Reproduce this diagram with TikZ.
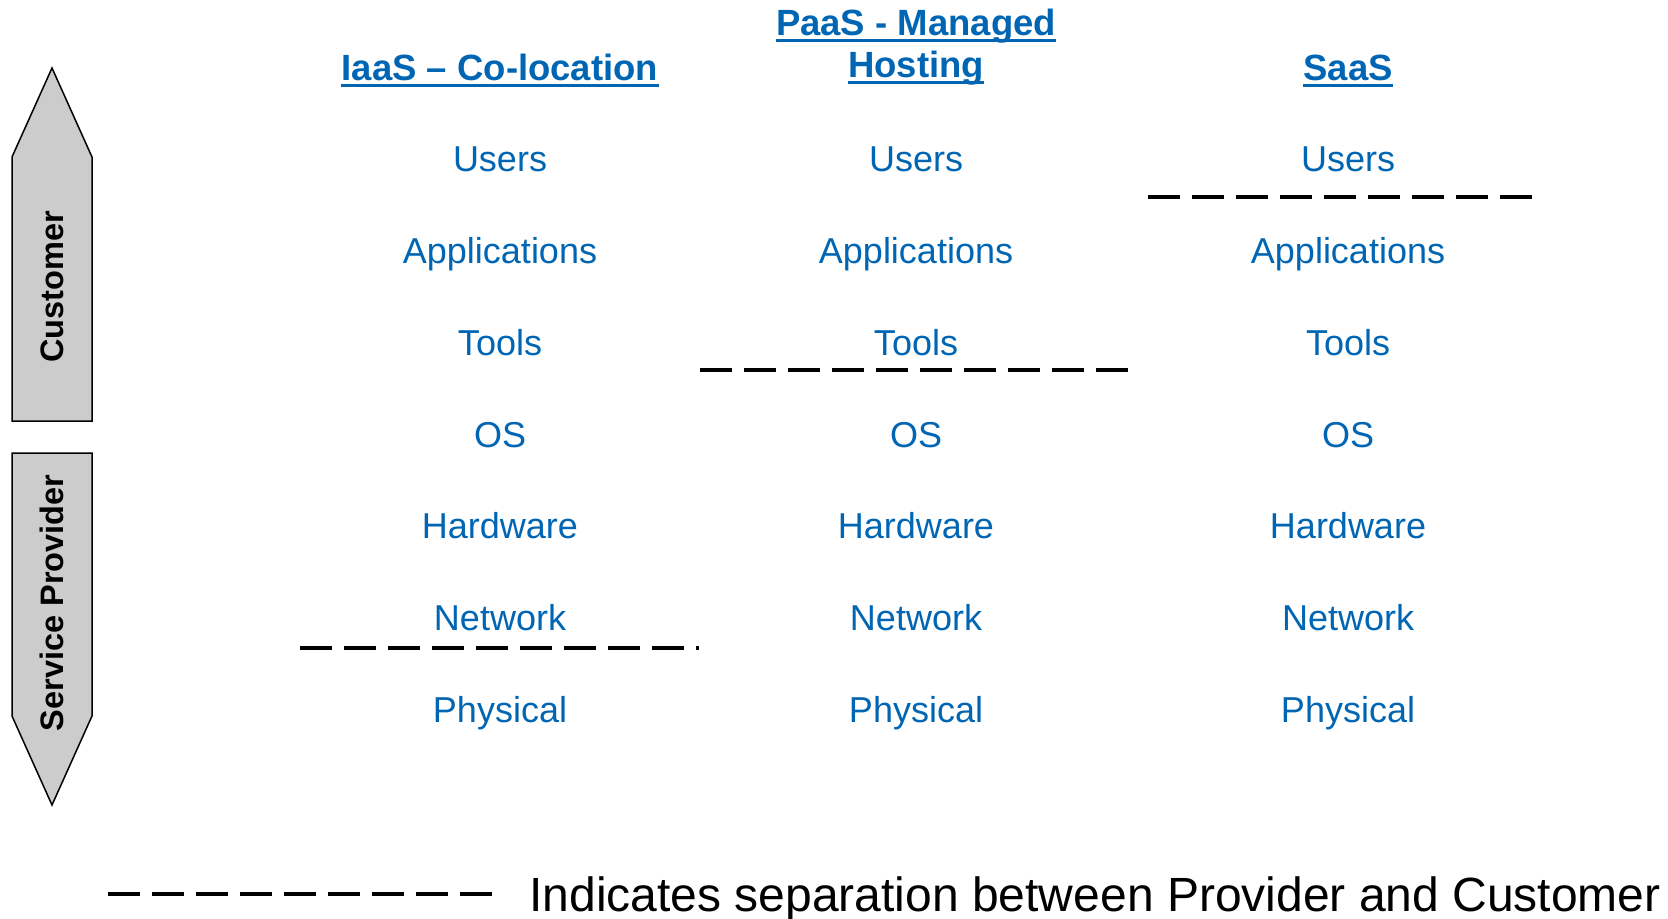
\documentclass[tikz,border=0pt]{standalone}
\usepackage{fontspec}
\setmainfont{Liberation Sans}
\definecolor{hblue}{RGB}{0,102,179}
\definecolor{arrgray}{RGB}{204,204,204}
\begin{document}
\begin{tikzpicture}[x=0.5pt,y=-0.5pt,
  item/.style={anchor=base, text=hblue, font=\fontsize{18}{20}\selectfont, inner sep=0pt},
  head/.style={anchor=base, text=hblue, font=\fontsize{18.25}{20}\selectfont\bfseries, inner sep=0pt},
  ul/.style={draw=hblue, line width=1.5pt},
  sepline/.style={line width=2pt, dash pattern=on 15.83pt off 6.17pt},
  arrowbox/.style={draw=black, line width=0.75pt, fill=arrgray, line join=miter},
  side/.style={font=\fontsize{16.25}{18}\selectfont\bfseries, rotate=90, inner sep=0pt},
  legend/.style={anchor=base west, font=\fontsize{24}{26}\selectfont, inner sep=0pt}]
\useasboundingbox[fill=white] (0,0) rectangle (1668,919);

% side arrows
\draw[arrowbox] (52,68) -- (92,157) -- (92,421) -- (12,421) -- (12,157) -- cycle;
\draw[arrowbox] (12,453) -- (92,453) -- (92,716) -- (52,805) -- (12,716) -- cycle;
\node[side] (cust) at (52,287) {Customer};
\node[side] (prov) at (52,603) {Service Provider};

% headers
\node[head] (h1) at (500,81) {IaaS – Co-location};
\node[head] (h2a) at (916,36) {PaaS - Managed};
\node[head] (h2b) at (916,78) {Hosting};
\node[head] (h3) at (1348,81) {SaaS};
\foreach \h in {h1,h2a,h2b,h3}{
  \draw[ul] ([yshift=-2.2pt]\h.base west) -- ([yshift=-2.2pt]\h.base east);
}

% items
\foreach \col/\x in {a/500,b/916,c/1348}{
  \foreach \t [count=\i from 0] in {Users,Applications,Tools,OS,Hardware,Network,Physical}{
    \node[item] (\col\i) at (\x,{172+\i*91.67}) {\t};
  }
}

% separators
\coordinate (s1a) at (300,647.5); \coordinate (s1b) at (699,647.5);
\coordinate (s2a) at (700,370);   \coordinate (s2b) at (1128,370);
\coordinate (s3a) at (1148,197);  \coordinate (s3b) at (1532,197);
\draw[sepline] (s1a) -- (s1b);
\draw[sepline] (s2a) -- (s2b);
\draw[sepline] (s3a) -- (s3b);

% legend
\coordinate (la) at (108,894); \coordinate (lb) at (492,894);
\draw[sepline] (la) -- (lb);
\node[legend] (legtext) at (529,911) {Indicates separation between Provider and Customer};
\end{tikzpicture}
\end{document}
